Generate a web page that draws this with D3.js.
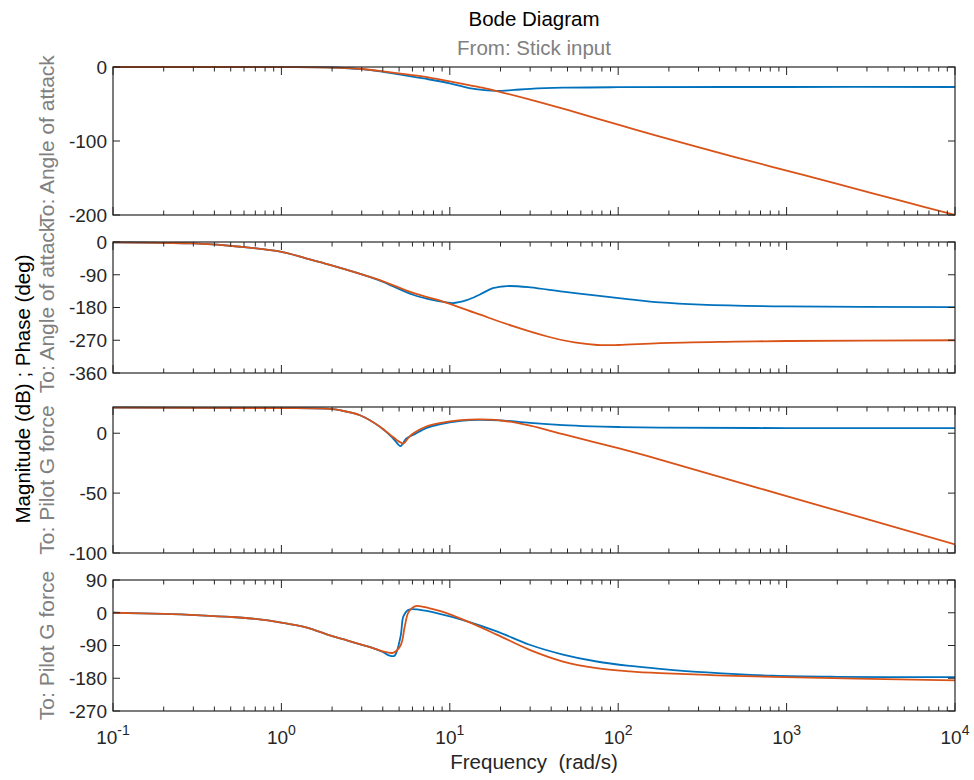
<!DOCTYPE html>
<html>
<head>
<meta charset="utf-8">
<script src="https://cdn.jsdelivr.net/npm/d3@7"></script>
<style>
  html, body { margin: 0; padding: 0; background: #fff; }
  svg { display: block; font-family: "Liberation Sans", Arial, Helvetica, sans-serif; }
</style>
</head>
<body>
<svg id="chart" width="974" height="780"></svg>
<script>
// ---------- DATA ----------
const chartTitle = "Bode Diagram";
const chartSubtitle = "From: Stick input";
const xLabel = "Frequency  (rad/s)";
const yLabel = "Magnitude (dB) ; Phase (deg)";
const rowLabels = ["To: Angle of attack", "To: Angle of attack", "To: Pilot G force", "To: Pilot G force"];
const xTickValues = [0.1, 1, 10, 100, 1000, 10000];
const xTickExponents = ["-1", "0", "1", "2", "3", "4"];

// Panel 1: Angle of attack, magnitude (dB)
const aoaMagTicks = [0, -100, -200];
const aoaMagFreqBlue = [0.1, 0.5, 1, 2, 3, 4, 5, 7, 10, 13, 16, 19, 24, 30, 47, 100, 1000, 10000];
const aoaMagBlue = [0, 0, -0.2, -0.7, -3, -6.5, -10, -15.5, -22, -28.5, -31.3, -32.3, -31, -29.5, -28, -27.3, -27, -27];
const aoaMagFreqOrange = [0.1, 0.5, 1, 2, 3, 4, 5, 7, 10, 13, 16, 19, 30, 50, 100, 177, 500, 1000, 2000, 5000, 10000];
const aoaMagOrange = [0, 0, -0.2, -0.8, -2.7, -5.8, -8.7, -13, -19.5, -24.5, -28.5, -32.5, -44, -58, -78, -94, -122, -140, -158, -182, -200];

// Panel 2: Angle of attack, phase (deg)
const aoaPhaseTicks = [0, -90, -180, -270, -360];
const aoaPhaseFreqBlue = [0.1, 0.2, 0.3, 0.57, 1, 1.4, 1.94, 3, 3.85, 6.05, 8, 9.6, 10.4, 12.6, 15, 18, 21.9, 30, 47, 75, 117, 177, 309, 1000, 10000];
const aoaPhaseBlue = [-1, -2.5, -4, -13, -27, -45, -63, -89, -106, -145, -160, -166, -168, -160, -145, -127, -121, -124.5, -136.5, -147.5, -157.6, -166, -172, -177, -179];
const aoaPhaseFreqOrange = [0.1, 0.2, 0.3, 0.57, 1, 1.4, 1.94, 3, 3.85, 6.05, 9.6, 15, 24, 37.5, 55, 75, 100, 177, 500, 1000, 10000];
const aoaPhaseOrange = [-1, -2.5, -4, -13, -27, -45, -63, -89, -105, -140, -167, -199, -232, -259, -276, -283, -283, -278, -274, -272, -270];

// Panel 3: Pilot G force, magnitude (dB)
const gMagTicks = [0, -50, -100];
const gMagFreqBlue = [0.1, 1, 1.94, 2.23, 2.93, 3.85, 4.6, 5.1, 5.5, 6.05, 7.3, 8.7, 11.6, 15, 19.8, 30, 47, 70, 100, 177, 1000, 10000];
const gMagBlue = [21.3, 21, 20.3, 19.2, 15, 5.3, -4.2, -10.8, -4.5, -1.5, 4.5, 7.5, 10.3, 11.2, 10.8, 8.6, 6.8, 5.8, 5.2, 4.7, 4.3, 4.2];
const gMagFreqOrange = [0.1, 1, 1.94, 2.23, 2.93, 3.85, 4.6, 5.0, 5.3, 5.7, 6.05, 7.3, 8.7, 11.6, 15, 19.8, 30, 47, 100, 177, 1000, 10000];
const gMagOrange = [21.3, 21, 20.3, 19.2, 15, 5.5, -3.2, -7, -8.6, -3.5, -0.3, 5.8, 8.5, 11, 11.6, 10.8, 6.3, -0.8, -12.5, -22, -52.5, -92.8];

// Panel 4: Pilot G force, phase (deg)
const gPhaseTicks = [90, 0, -90, -180, -270];
const gPhaseFreqBlue = [0.1, 0.2, 0.33, 0.5, 0.7, 1, 1.4, 1.94, 2.5, 3.05, 3.5, 4.0, 4.4, 4.7, 5.1, 5.3, 5.6, 5.95, 6.4, 8.7, 12, 19, 29.8, 47, 74.5, 117, 177, 336, 830, 2000, 10000];
const gPhaseBlue = [0, -3, -7, -11.5, -17, -27, -40, -62, -77, -89, -97, -108, -118, -118, -65, -10, 6, 10, 9, -3, -20, -51, -88, -115, -134, -146, -154, -164, -173, -176, -177];
const gPhaseFreqOrange = [0.1, 0.2, 0.33, 0.5, 0.7, 1, 1.4, 1.94, 2.5, 3.05, 3.5, 4.0, 4.6, 5.1, 5.4, 5.65, 6.0, 6.4, 7.6, 8.7, 12, 19, 29.8, 47, 74.5, 117, 177, 336, 830, 10000];
const gPhaseOrange = [0, -3, -7, -11.5, -17, -27, -40, -62, -77, -89, -97, -106, -110, -90, -38, -1, 14, 19, 12, 5, -19, -60, -102, -134, -152, -161, -166, -171, -176, -186];

const seriesColors = ["#0072BD", "#D95319"];

// ---------- LAYOUT ----------
const svg = d3.select("#chart");
const left = 113, right = 955;
const axisColor = "#262626";
const grayText = "#808080";

const panels = [
  { top: 67,  bottom: 215, domain: [-200, 0],   ticks: aoaMagTicks,
    series: [[aoaMagFreqBlue, aoaMagBlue], [aoaMagFreqOrange, aoaMagOrange]] },
  { top: 242, bottom: 373, domain: [-360, 0],   ticks: aoaPhaseTicks,
    series: [[aoaPhaseFreqBlue, aoaPhaseBlue], [aoaPhaseFreqOrange, aoaPhaseOrange]] },
  { top: 407, bottom: 553, domain: [-100, 21.9], ticks: gMagTicks,
    series: [[gMagFreqBlue, gMagBlue], [gMagFreqOrange, gMagOrange]] },
  { top: 580, bottom: 711, domain: [-270, 90],  ticks: gPhaseTicks,
    series: [[gPhaseFreqBlue, gPhaseBlue], [gPhaseFreqOrange, gPhaseOrange]] }
];

const x = d3.scaleLog().domain([0.1, 10000]).range([left, right]);

const minorTicks = [];
for (let e = -1; e < 4; e++) {
  for (let k = 2; k <= 9; k++) minorTicks.push(k * Math.pow(10, e));
}

panels.forEach((p, i) => {
  const y = d3.scaleLinear().domain(p.domain).range([p.bottom, p.top]);
  const g = svg.append("g");

  const clipId = "clip" + i;
  svg.append("clipPath").attr("id", clipId)
    .append("rect").attr("x", left).attr("y", p.top - 2)
    .attr("width", right - left).attr("height", p.bottom - p.top + 4);

  p.series.forEach((s, si) => {
    const pts = s[0].map((f, j) => [f, s[1][j]]);
    const line = d3.line()
      .x(d => x(d[0])).y(d => y(d[1]))
      .curve(d3.curveCatmullRom.alpha(0.5));
    g.append("path")
      .attr("d", line(pts))
      .attr("fill", "none")
      .attr("stroke", seriesColors[si])
      .attr("stroke-width", 1.8)
      .attr("stroke-linejoin", "round")
      .attr("clip-path", `url(#${clipId})`);
  });

  const xt = g.append("g").attr("stroke", axisColor).attr("stroke-width", 1);
  xTickValues.forEach(v => {
    xt.append("line").attr("x1", x(v)).attr("x2", x(v)).attr("y1", p.bottom).attr("y2", p.bottom - 8);
    xt.append("line").attr("x1", x(v)).attr("x2", x(v)).attr("y1", p.top).attr("y2", p.top + 8);
  });
  minorTicks.forEach(v => {
    xt.append("line").attr("x1", x(v)).attr("x2", x(v)).attr("y1", p.bottom).attr("y2", p.bottom - 4.5);
    xt.append("line").attr("x1", x(v)).attr("x2", x(v)).attr("y1", p.top).attr("y2", p.top + 4.5);
  });
  p.ticks.forEach(v => {
    xt.append("line").attr("x1", left).attr("x2", left + 7).attr("y1", y(v)).attr("y2", y(v));
    xt.append("line").attr("x1", right).attr("x2", right - 7).attr("y1", y(v)).attr("y2", y(v));
  });

  g.append("rect")
    .attr("x", left).attr("y", p.top)
    .attr("width", right - left).attr("height", p.bottom - p.top)
    .attr("fill", "none").attr("stroke", axisColor).attr("stroke-width", 1.2);

  p.ticks.forEach(v => {
    g.append("text")
      .attr("x", left - 6).attr("y", y(v)).attr("dy", "0.36em")
      .attr("text-anchor", "end")
      .attr("font-size", 19).attr("fill", axisColor)
      .text(String(v));
  });

  svg.append("text")
    .attr("transform", `translate(54,${(p.top + p.bottom) / 2}) rotate(-90)`)
    .attr("text-anchor", "middle")
    .attr("font-size", 21).attr("fill", grayText)
    .text(rowLabels[i]);

  if (i === panels.length - 1) {
    xTickValues.forEach((v, k) => {
      const t = svg.append("text")
        .attr("x", x(v)).attr("y", p.bottom + 33)
        .attr("text-anchor", "middle")
        .attr("font-size", 19).attr("fill", axisColor);
      t.append("tspan").text("10");
      t.append("tspan").attr("dy", -9).attr("font-size", 14).text(xTickExponents[k]);
    });
  }
});

svg.append("text").attr("x", 534).attr("y", 26).attr("text-anchor", "middle")
  .attr("font-size", 20.5).attr("fill", "#000").text(chartTitle);
svg.append("text").attr("x", 534).attr("y", 55).attr("text-anchor", "middle")
  .attr("font-size", 20.5).attr("fill", grayText).text(chartSubtitle);

svg.append("text").attr("x", 534).attr("y", 769).attr("text-anchor", "middle")
  .attr("font-size", 20.5).attr("fill", axisColor)
  .attr("xml:space", "preserve").style("white-space", "pre").text(xLabel);
svg.append("text")
  .attr("transform", `translate(30,389) rotate(-90)`)
  .attr("text-anchor", "middle")
  .attr("font-size", 20.5).attr("fill", "#000").text(yLabel);
</script>
</body>
</html>
